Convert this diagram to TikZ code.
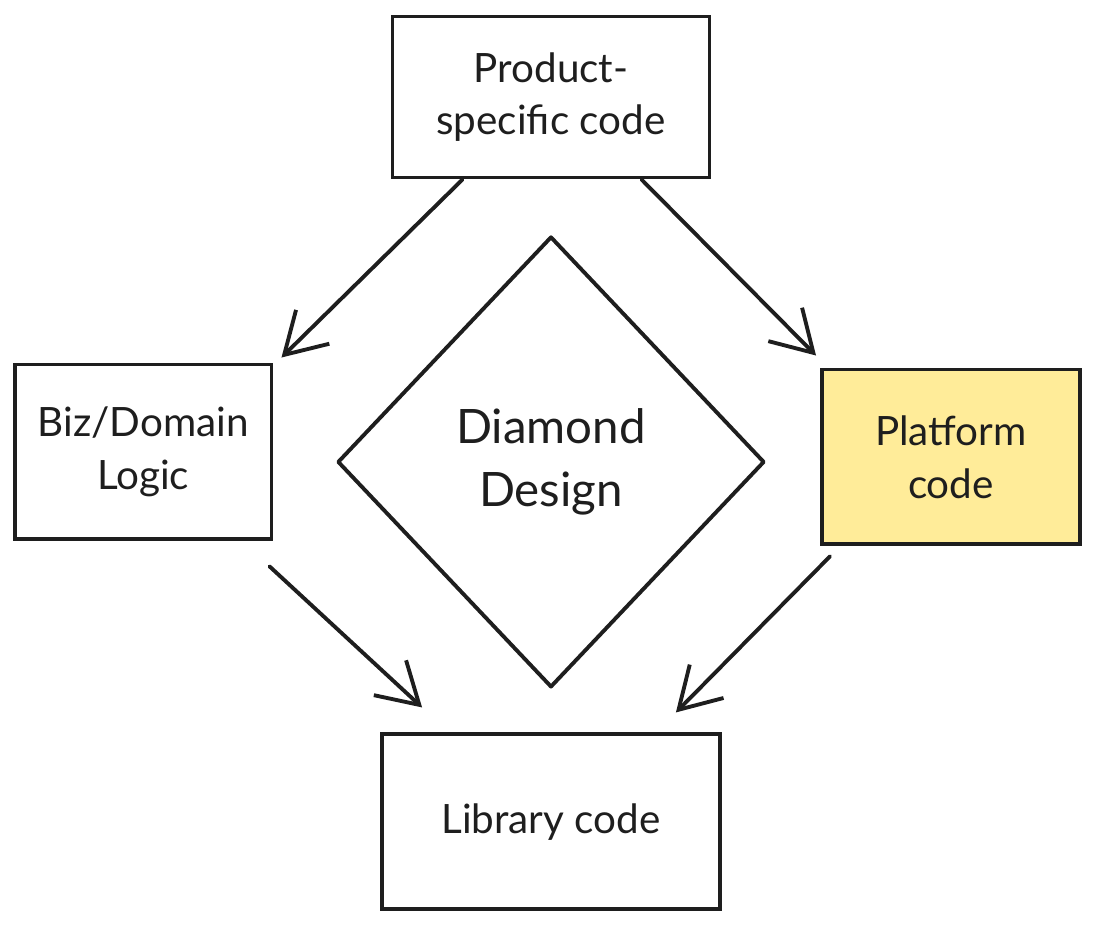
\documentclass[tikz,border=0pt]{standalone}
\usepackage{fontspec}
\setmainfont{Lato}
\usetikzlibrary{arrows.meta,positioning,shapes.geometric}
\definecolor{ink}{HTML}{1E1E1E}
\definecolor{platyellow}{HTML}{FFEC99}
\tikzset{
  block/.style={draw=ink,line width=2.2pt,minimum height=3.5cm,align=center,
    text=ink,font=\fontsize{23}{30}\selectfont},
  sketch/.style={draw=ink,line width=2.2pt,line cap=round,line join=round},
}
\begin{document}
\begin{tikzpicture}[x=0.02cm,y=-0.02cm,node distance=3cm,on grid,
    >={Straight Barb[length=0.8cm,width=0.95cm,line width=2.2pt]}]
   \useasboundingbox (0,0) rectangle (1096,926);
   \node[block,minimum width=6.34cm,minimum height=3.22cm] (prod) at (551,97) {Product-\\specific code};
   \node[block,minimum width=5.14cm] (biz) [below left=7.1cm and 8.16cm of prod] {Biz/Domain\\Logic};
   \node[block,minimum width=5.16cm,fill=platyellow] (plat) [below right=7.2cm and 8cm of prod] {Platform\\code};
   \node[block,minimum width=6.76cm] (lib) [below=14.5cm of prod] {Library code};
   \node[sketch,diamond,minimum width=8.54cm,minimum height=9.02cm,inner sep=0pt,
     align=center,text=ink,font=\fontsize{27}{36}\selectfont] (diam) [below=7.3cm of prod] {Diamond\\Design};
    \path[every edge/.append style={sketch,->}] 
    ([xshift=1.44cm]prod.south west) edge ([shift={(8,-5)}]biz.north east)
    ([xshift=-1.4cm]prod.south east) edge ([shift={(-4,-12)}]plat.north west)
    ([shift={(-4,25)}]biz.south east) edge ([shift={(42,-25)}]lib.north west)
    ([shift={(10,10)}]plat.south west) edge ([shift={(-46,-20)}]lib.north east);
\end{tikzpicture}
\end{document}
